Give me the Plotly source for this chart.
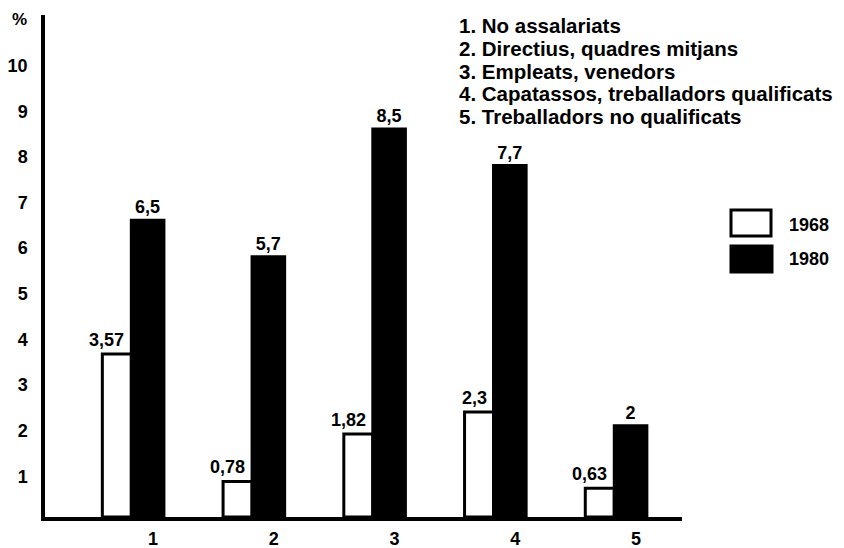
import plotly.graph_objects as go

# ---- data -------------------------------------------------------------
categories = [1, 2, 3, 4, 5]
tick_labels = ["1", "2", "3", "4", "5"]
category_names = [
    "No assalariats",
    "Directius, quadres mitjans",
    "Empleats, venedors",
    "Capatassos, treballadors qualificats",
    "Treballadors no qualificats",
]
series_names = ["1968", "1980"]
values_1968 = [3.57, 0.78, 1.82, 2.3, 0.63]
values_1980 = [6.5, 5.7, 8.5, 7.7, 2]
y_ticks = [1, 2, 3, 4, 5, 6, 7, 8, 9, 10]
y_unit_label = "%"

# ---- layout geometry (pixels) ----------------------------------------
W, H = 844, 548
L, R, T, B = 45, 162, 15, 31
plot_w = W - L - R
plot_h = H - T - B
FONT = "Liberation Sans"

W_1968, W_1980 = 0.24, 0.27   # bar widths in category units


def px_x(px):
    return (px - L) / plot_w


def px_y(py):
    return (H - B - py) / plot_h


def fmt(v):
    return f"{v:g}".replace(".", ",")


def bold_font(size):
    return dict(family=FONT, size=size, color="black", weight="bold")


fig = go.Figure()

fig.add_trace(go.Bar(
    x=categories, y=values_1968, name=series_names[0],
    width=W_1968, offset=-W_1968,
    marker=dict(color="white", line=dict(color="black", width=3)),
    showlegend=False,
))
fig.add_trace(go.Bar(
    x=categories, y=values_1980, name=series_names[1],
    width=W_1980, offset=0.0,
    marker=dict(color="black", line=dict(color="black", width=3)),
    text=[fmt(v) for v in values_1980], texttemplate="%{text}",
    textposition="outside", cliponaxis=False, constraintext="none",
    textfont=bold_font(18),
    showlegend=False,
))

shapes = []
annotations = []

# 1968 value labels sit just left of the black bar, above the white one
for c, v in zip(categories, values_1968):
    annotations.append(dict(xref="x", yref="y", x=c, y=v,
                            xanchor="right", yanchor="bottom", xshift=-5, yshift=2,
                            showarrow=False, text=fmt(v), font=bold_font(18)))

# hand-drawn key for the two series
key_boxes = [(731, 771, 210, 236, "white"), (731, 772, 246, 272, "black")]
key_text_y = [225, 259]
for (x0, x1, y0, y1, fill), name, ty in zip(key_boxes, series_names, key_text_y):
    shapes.append(dict(type="rect", xref="paper", yref="paper",
                       x0=px_x(x0), x1=px_x(x1), y0=px_y(y1), y1=px_y(y0),
                       fillcolor=fill, line=dict(color="black", width=3)))
    annotations.append(dict(xref="paper", yref="paper", x=px_x(787), y=px_y(ty),
                            xanchor="left", yanchor="middle", showarrow=False,
                            text=name, font=bold_font(18)))

# numbered list of the categories
list_y = [25.8, 48.4, 71.0, 93.6, 116.2]
for cat, name, ly in zip(categories, category_names, list_y):
    annotations.append(dict(xref="paper", yref="paper", x=px_x(457), y=px_y(ly),
                            xanchor="left", yanchor="middle", showarrow=False,
                            text=f"{cat}. {name}", font=bold_font(20.5)))

# unit above the value axis
annotations.append(dict(xref="paper", yref="paper", x=px_x(19), y=px_y(20),
                        xanchor="center", yanchor="middle", showarrow=False,
                        text=y_unit_label, font=bold_font(17)))

fig.update_layout(
    width=W, height=H,
    margin=dict(l=L, r=R, t=T, b=B, pad=0),
    paper_bgcolor="white", plot_bgcolor="white",
    barmode="overlay",
    font=dict(family=FONT, size=18, color="black"),
    shapes=shapes, annotations=annotations,
    xaxis=dict(
        range=[0.285, 5.561], showline=True, linewidth=4, linecolor="black",
        tickmode="array", tickvals=[c + 0.18 for c in categories], ticktext=tick_labels,
        ticks="", showgrid=False, zeroline=False, fixedrange=True, automargin=False,
        tickfont=bold_font(18), ticklabelstandoff=2,
    ),
    yaxis=dict(
        range=[0, 11.0], showline=True, linewidth=3.5, linecolor="black",
        tickmode="array", tickvals=y_ticks, ticktext=[str(t) for t in y_ticks],
        ticks="", showgrid=False, zeroline=False, fixedrange=True, automargin=False,
        tickfont=bold_font(18),
        ticklabelshift=5, ticklabelstandoff=10,
    ),
)

fig.write_html("out.html")
